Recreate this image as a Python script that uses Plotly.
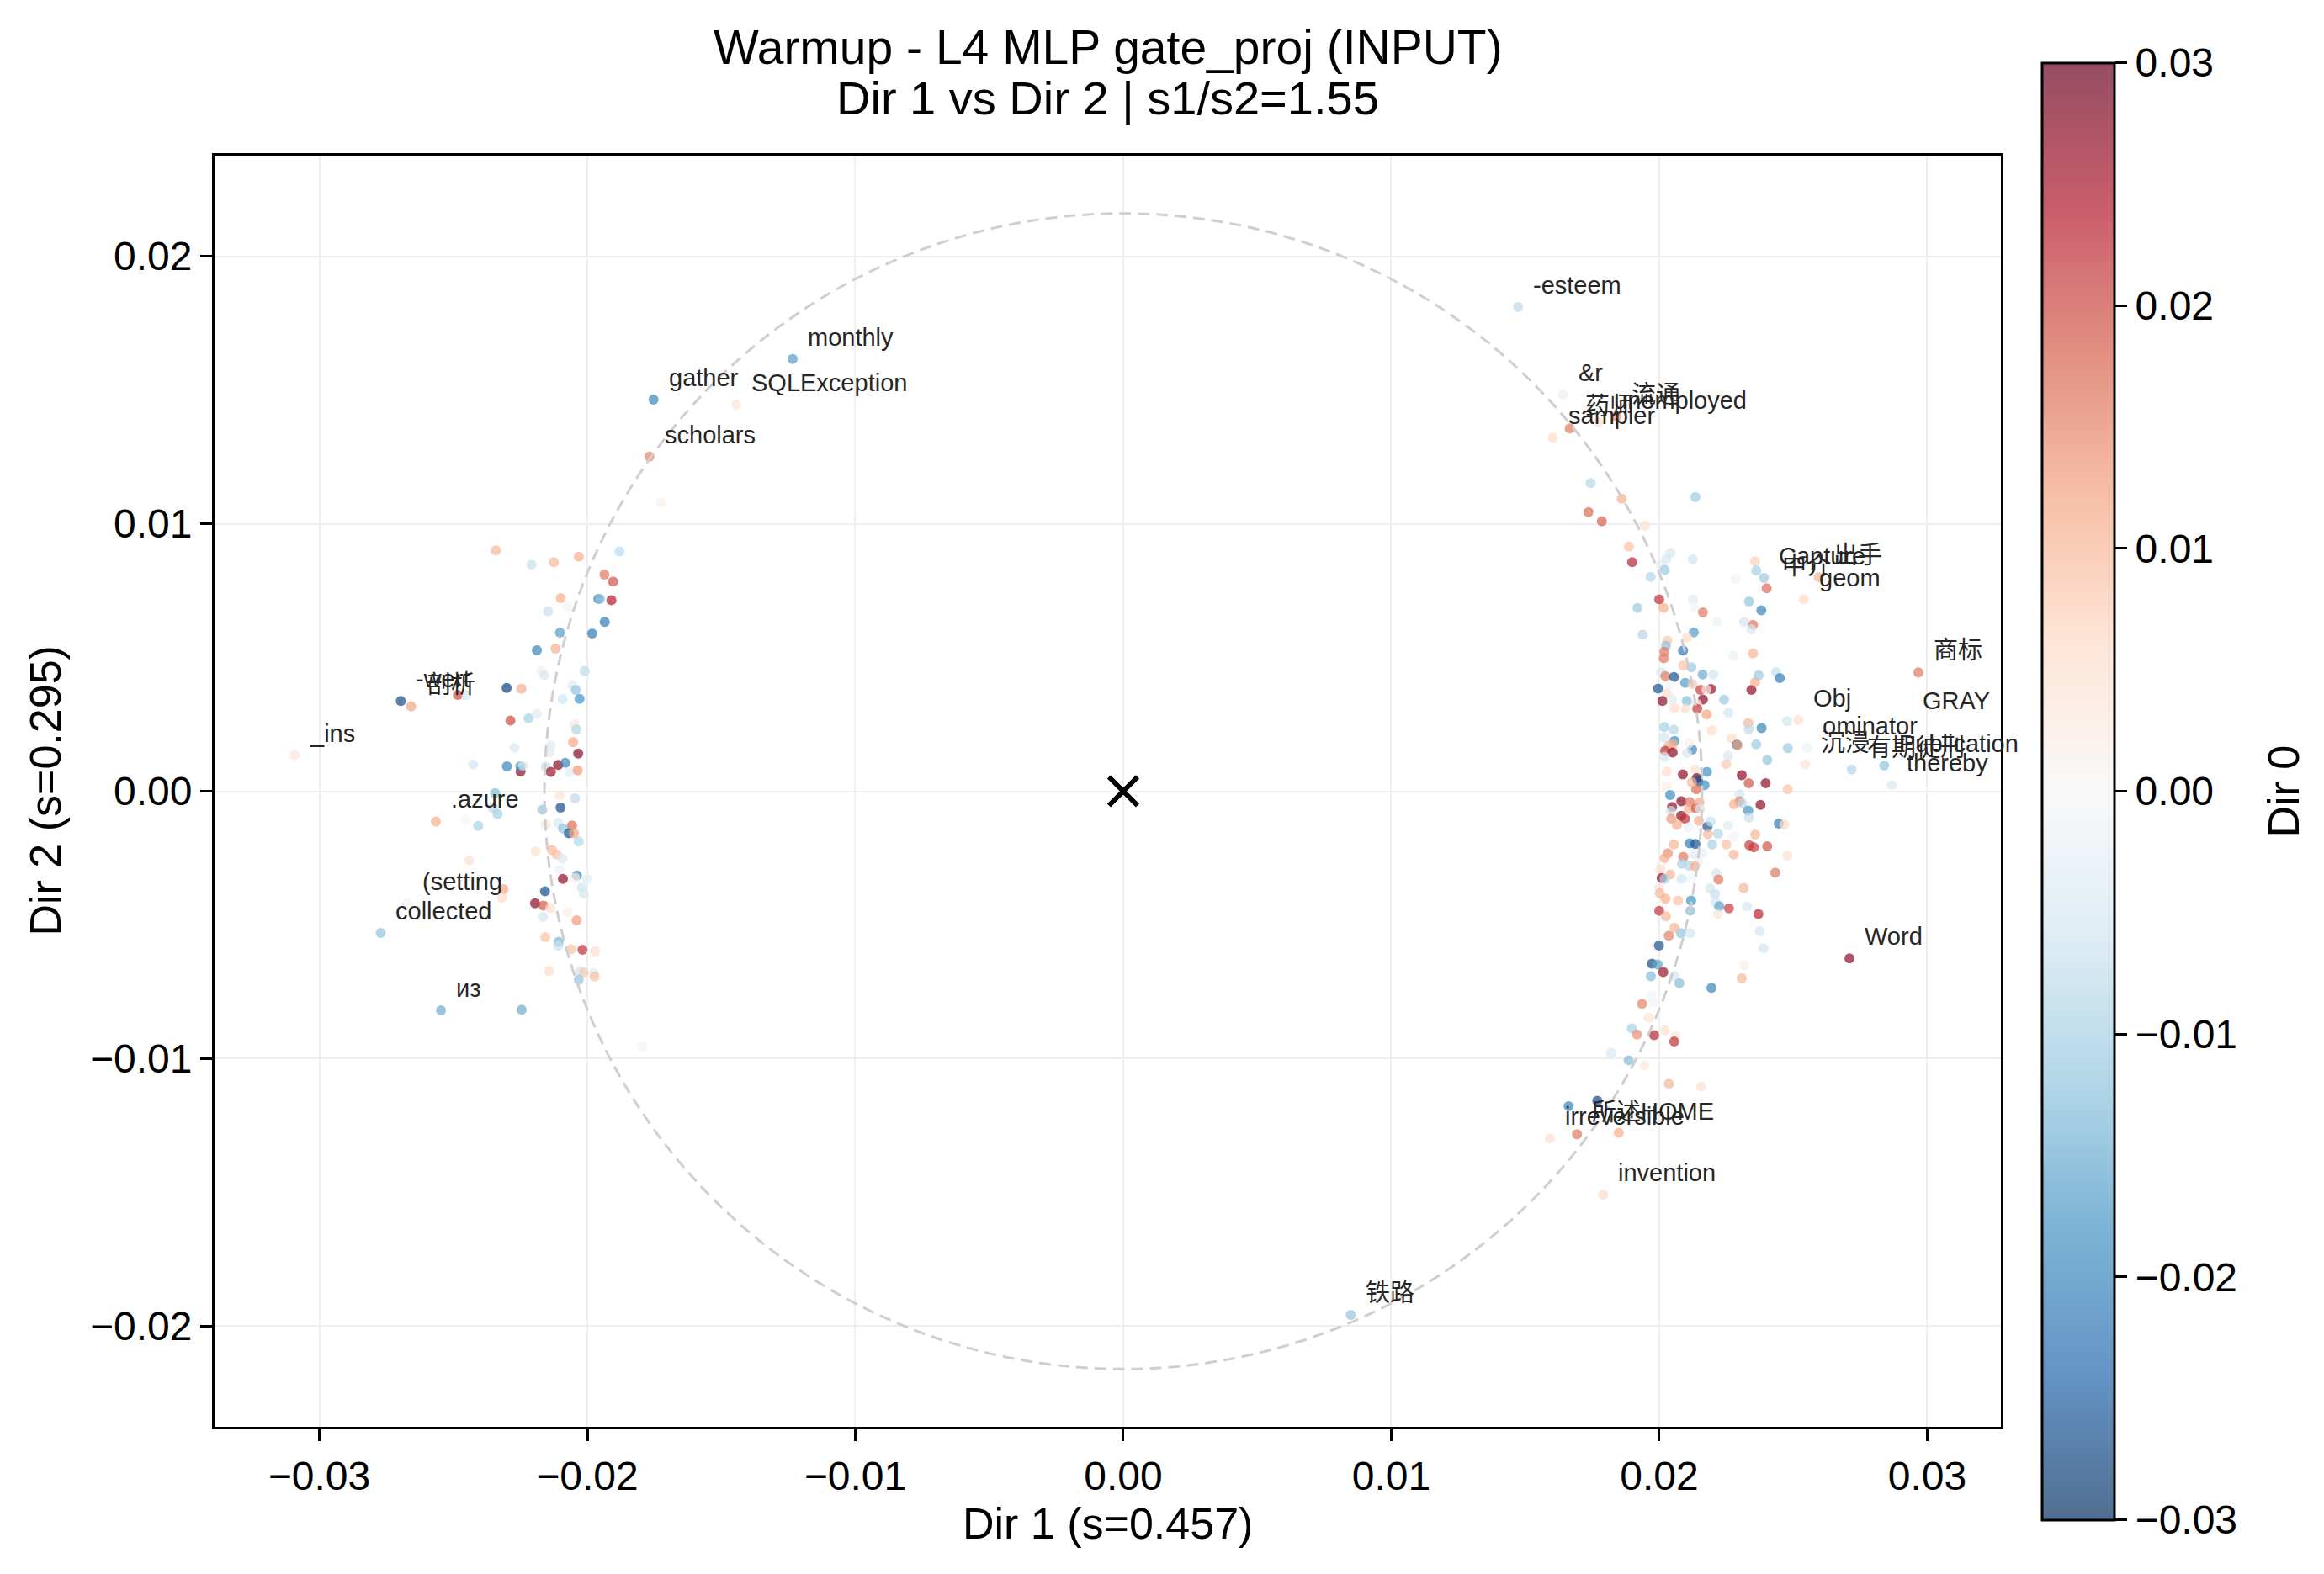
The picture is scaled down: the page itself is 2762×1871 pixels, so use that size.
import plotly.graph_objects as go

# ---------------- data ----------------
# unlabeled points, left cluster
left_dir1 = [-0.02341, -0.02208, -0.02125, -0.02032, -0.01880, -0.01936, -0.01904, -0.01959, -0.01952, -0.01910,
             -0.02099, -0.02074, -0.02147, -0.02102, -0.01982, -0.01935, -0.02188, -0.02119, -0.02010, -0.02172,
             -0.02161, -0.02301, -0.02246, -0.02055, -0.02043, -0.02029, -0.02092, -0.02483, -0.02452, -0.02287,
             -0.02219, -0.02188, -0.02048, -0.02041, -0.02053, -0.02034, -0.02272, -0.02138, -0.02140, -0.02426,
             -0.02300, -0.02249, -0.02250, -0.02240, -0.02155, -0.02109, -0.02136, -0.02082, -0.02067, -0.02036,
             -0.02344, -0.02102, -0.02046, -0.02352, -0.02335, -0.02100, -0.02168, -0.02452, -0.02407, -0.02155,
             -0.02109, -0.02091, -0.02057, -0.02069, -0.02050, -0.02032, -0.02440, -0.02193, -0.02132, -0.02114,
             -0.02093, -0.02104, -0.02091, -0.02039, -0.02046, -0.02002, -0.02021, -0.02013, -0.02313, -0.02318,
             -0.02158, -0.02195, -0.02164, -0.02138, -0.02073, -0.02040, -0.02166, -0.02157, -0.02107, -0.02109,
             -0.02061, -0.02018, -0.01971, -0.02143, -0.02027, -0.02014, -0.01976, -0.01973, -0.02032, -0.02245,
             -0.01795, -0.01725]
left_dir2 = [0.00900, 0.00847, 0.00856, 0.00877, 0.00896, 0.00810, 0.00784, 0.00719, 0.00719, 0.00714,
             0.00722, 0.00690, 0.00672, 0.00593, 0.00590, 0.00633, 0.00527, 0.00533, 0.00450, 0.00450,
             0.00435, 0.00386, 0.00383, 0.00397, 0.00379, 0.00345, 0.00344, 0.00360, 0.00360, 0.00264,
             0.00273, 0.00289, 0.00250, 0.00231, 0.00183, 0.00141, 0.00162, 0.00171, 0.00145, 0.00100,
             0.00093, 0.00074, 0.00093, 0.00096, 0.00091, 0.00098, 0.00072, 0.00106, 0.00071, 0.00078,
             -0.00007, -0.00015, -0.00027, -0.00063, -0.00085, -0.00061, -0.00069, -0.00105, -0.00130, -0.00125,
             -0.00118, -0.00139, -0.00128, -0.00157, -0.00157, -0.00188, -0.00259, -0.00226, -0.00220, -0.00237,
             -0.00252, -0.00293, -0.00328, -0.00315, -0.00324, -0.00328, -0.00360, -0.00383, -0.00366, -0.00398,
             -0.00374, -0.00419, -0.00428, -0.00437, -0.00452, -0.00483, -0.00470, -0.00546, -0.00563, -0.00578,
             -0.00591, -0.00593, -0.00598, -0.00672, -0.00673, -0.00678, -0.00680, -0.00693, -0.00705, -0.00817,
             -0.00956, 0.01079]
left_dir0 = [0.010, -0.007, 0.010, 0.011, -0.008, 0.016, 0.019, -0.020, -0.012, 0.024,
             0.011, 0.001, -0.007, -0.017, -0.021, -0.021, -0.020, 0.011, -0.008, 0.002,
             -0.005, -0.028, 0.011, -0.004, -0.012, -0.018, -0.006, 0.020, -0.005, 0.020,
             -0.010, -0.004, 0.003, -0.009, 0.012, 0.028, -0.005, -0.004, -0.003, -0.006,
             -0.020, 0.027, -0.018, -0.005, -0.007, 0.027, 0.026, -0.020, -0.003, 0.013,
             -0.013, 0.004, -0.008, -0.008, -0.010, -0.027, -0.012, 0.000, -0.010, 0.004,
             -0.005, -0.012, 0.017, -0.026, 0.012, -0.009, 0.005, 0.005, 0.010, 0.009,
             -0.005, -0.002, 0.027, -0.020, 0.002, -0.003, -0.006, -0.005, 0.012, 0.006,
             -0.027, 0.027, 0.019, 0.005, 0.002, 0.013, -0.006, 0.009, -0.014, -0.007,
             0.009, 0.022, 0.005, 0.006, -0.006, 0.008, -0.004, 0.009, -0.012, -0.015,
             -0.001, 0.002]

# unlabeled points, right cluster
right_dir1 = [0.01744, 0.02135, 0.01860, 0.01736, 0.01786, 0.01946, 0.01887, 0.01899, 0.02042, 0.02027,
              0.02125, 0.02006, 0.02021, 0.01968, 0.02357, 0.02362, 0.02286, 0.02335, 0.02381, 0.02000,
              0.02016, 0.01919, 0.02126, 0.02130, 0.02163, 0.02215, 0.02317, 0.02350, 0.02344, 0.01938,
              0.02129, 0.02104, 0.02030, 0.02025, 0.02019, 0.02017, 0.02089, 0.02090, 0.02120, 0.02277,
              0.02350, 0.02007, 0.02023, 0.02055, 0.02097, 0.01996, 0.02028, 0.02012, 0.02047, 0.02057,
              0.02124, 0.02154, 0.02193, 0.02176, 0.02162, 0.02202, 0.02103, 0.02163, 0.02140, 0.02142,
              0.02177, 0.02242, 0.02258, 0.02344, 0.02358, 0.02371, 0.02436, 0.02450, 0.02041, 0.02098,
              0.02019, 0.02054, 0.02018, 0.02057, 0.02036, 0.02051, 0.02022, 0.02050, 0.02019, 0.02123,
              0.02104, 0.02111, 0.02197, 0.02332, 0.02334, 0.02382, 0.02270, 0.02290, 0.02292, 0.02362,
              0.02403, 0.02257, 0.02250, 0.02477, 0.02480, 0.02028, 0.02088, 0.02135, 0.02140, 0.02178,
              0.02145, 0.02169, 0.02138, 0.02122, 0.02028, 0.02308, 0.02334, 0.02397, 0.02480, 0.02041,
              0.02077, 0.02048, 0.02044, 0.02045, 0.02082, 0.02096, 0.02066, 0.02109, 0.02083, 0.02114,
              0.02110, 0.02137, 0.02150, 0.02153, 0.02148, 0.02180, 0.02182, 0.02192, 0.02219, 0.02300,
              0.02300, 0.02279, 0.02310, 0.02378, 0.02332, 0.02335, 0.02257, 0.02280, 0.02358, 0.02446,
              0.02467, 0.02055, 0.02114, 0.02135, 0.02198, 0.02250, 0.02336, 0.02353, 0.02403, 0.02478,
              0.02032, 0.02020, 0.02090, 0.02130, 0.02161, 0.02145, 0.02085, 0.02111, 0.02133, 0.02278,
              0.02433, 0.02004, 0.02041, 0.02009, 0.02020, 0.02083, 0.02119, 0.02213, 0.02221, 0.02315,
              0.01999, 0.02002, 0.02023, 0.02070, 0.02119, 0.02116, 0.02189, 0.02208, 0.02210, 0.02224,
              0.02219, 0.02260, 0.02328, 0.02370, 0.02000, 0.02025, 0.02057, 0.02036, 0.02081, 0.02115,
              0.02375, 0.02389, 0.01985, 0.01999, 0.01973, 0.01994, 0.02015, 0.01969, 0.02057, 0.02075,
              0.02195, 0.02318, 0.02308, 0.01971, 0.01978, 0.01936, 0.01960, 0.01898, 0.01917, 0.01981,
              0.02022, 0.02061, 0.02056, 0.01821, 0.01886, 0.01945, 0.02036, 0.02156, 0.01662, 0.01769]
right_dir2 = [0.01152, 0.01100, 0.01094, 0.01043, 0.01009, 0.00992, 0.00914, 0.00856, 0.00891, 0.00869,
              0.00867, 0.00846, 0.00827, 0.00801, 0.00859, 0.00825, 0.00793, 0.00709, 0.00676, 0.00717,
              0.00685, 0.00685, 0.00717, 0.00689, 0.00668, 0.00634, 0.00633, 0.00622, 0.00605, 0.00585,
              0.00594, 0.00575, 0.00563, 0.00544, 0.00521, 0.00497, 0.00526, 0.00470, 0.00463, 0.00507,
              0.00515, 0.00444, 0.00430, 0.00427, 0.00405, 0.00384, 0.00367, 0.00337, 0.00343, 0.00311,
              0.00400, 0.00379, 0.00382, 0.00379, 0.00436, 0.00436, 0.00337, 0.00343, 0.00327, 0.00308,
              0.00287, 0.00342, 0.00294, 0.00379, 0.00407, 0.00433, 0.00445, 0.00423, 0.00397, 0.00308,
              0.00240, 0.00230, 0.00201, 0.00188, 0.00170, 0.00175, 0.00151, 0.00145, 0.00128, 0.00156,
              0.00143, 0.00180, 0.00227, 0.00255, 0.00232, 0.00236, 0.00198, 0.00174, 0.00172, 0.00175,
              0.00117, 0.00133, 0.00101, 0.00262, 0.00161, 0.00072, 0.00063, 0.00081, 0.00049, 0.00072,
              0.00038, 0.00023, 0.00007, 0.00033, 0.00018, 0.00060, 0.00030, 0.00030, 0.00007, -0.00014,
              -0.00035, -0.00059, -0.00074, -0.00103, -0.00092, -0.00103, -0.00126, -0.00135, -0.00038, -0.00040,
              -0.00066, -0.00064, -0.00042, -0.00066, -0.00111, -0.00132, -0.00161, -0.00113, -0.00159, -0.00012,
              -0.00038, -0.00049, -0.00045, -0.00051, -0.00072, -0.00098, -0.00129, -0.00169, -0.00162, -0.00121,
              -0.00124, -0.00199, -0.00195, -0.00197, -0.00199, -0.00199, -0.00202, -0.00210, -0.00206, -0.00241,
              -0.00232, -0.00250, -0.00245, -0.00234, -0.00231, -0.00265, -0.00271, -0.00278, -0.00281, -0.00237,
              -0.00304, -0.00292, -0.00311, -0.00325, -0.00328, -0.00328, -0.00326, -0.00307, -0.00330, -0.00362,
              -0.00362, -0.00381, -0.00402, -0.00409, -0.00409, -0.00447, -0.00363, -0.00384, -0.00415, -0.00430,
              -0.00459, -0.00438, -0.00431, -0.00459, -0.00447, -0.00468, -0.00510, -0.00540, -0.00531, -0.00531,
              -0.00524, -0.00587, -0.00577, -0.00577, -0.00645, -0.00648, -0.00676, -0.00692, -0.00690, -0.00718,
              -0.00735, -0.00651, -0.00700, -0.00763, -0.00789, -0.00795, -0.00847, -0.00887, -0.00910, -0.00912,
              -0.00894, -0.00915, -0.00936, -0.00978, -0.01006, -0.01025, -0.01094, -0.01104, -0.01178, -0.01157]
right_dir0 = [-0.009, -0.011, 0.011, 0.017, 0.018, 0.005, 0.009, 0.023, -0.005, -0.005,
              -0.006, -0.004, -0.011, -0.009, 0.007, -0.010, -0.001, -0.012, -0.020, 0.022,
              0.011, -0.011, -0.004, -0.001, 0.016, -0.002, -0.006, 0.016, -0.005, -0.009,
              -0.017, 0.006, 0.008, -0.012, 0.016, 0.016, -0.021, 0.009, -0.011, -0.002,
              0.010, -0.005, 0.016, -0.026, -0.017, -0.026, 0.005, 0.027, -0.004, 0.006,
              0.008, 0.021, 0.026, 0.003, -0.015, -0.006, -0.013, 0.027, 0.004, 0.021,
              0.012, -0.011, -0.006, 0.027, 0.011, -0.011, -0.007, -0.021, -0.001, 0.005,
              -0.010, -0.009, -0.006, -0.019, 0.010, 0.011, 0.022, 0.027, -0.005, -0.020,
              -0.005, 0.002, 0.006, 0.010, -0.008, -0.020, 0.006, -0.026, 0.012, -0.011,
              -0.012, -0.005, 0.008, -0.006, -0.011, 0.005, 0.027, 0.005, 0.029, -0.018,
              -0.026, -0.019, 0.017, 0.010, 0.002, 0.027, 0.019, 0.027, 0.009, -0.019,
              -0.004, 0.027, -0.006, 0.013, 0.027, 0.022, 0.011, -0.002, 0.027, 0.016,
              0.011, 0.019, 0.012, -0.005, 0.011, -0.026, 0.010, -0.007, -0.009, -0.006,
              0.016, 0.011, -0.008, 0.027, -0.018, -0.007, -0.004, -0.001, 0.010, -0.021,
              0.006, 0.010, -0.021, -0.026, -0.010, 0.009, 0.021, 0.021, 0.019, 0.005,
              0.014, 0.011, 0.016, -0.004, -0.002, -0.002, -0.010, -0.009, 0.011, 0.010,
              0.016, 0.006, 0.010, 0.026, -0.010, -0.006, -0.001, -0.006, 0.016, 0.010,
              0.004, 0.010, 0.011, 0.009, -0.018, -0.013, -0.006, -0.007, -0.006, -0.016,
              0.004, 0.021, -0.005, 0.023, 0.022, 0.010, 0.010, 0.015, -0.012, -0.006,
              -0.006, -0.006, 0.002, -0.026, -0.027, -0.016, 0.026, -0.013, -0.005, -0.013,
              -0.020, 0.002, 0.010, -0.001, -0.001, 0.015, 0.004, -0.010, 0.014, 0.023,
              0.005, 0.004, 0.022, -0.005, -0.013, 0.003, 0.010, 0.005, -0.020, -0.027]

# labeled tokens
label_tokens = ["-esteem", "monthly", "gather", "SQLException", "scholars", "&r", "药师", "流通",
                "unemployed", "sampler", "Capture", "中介", "出手", "geom", "商标", "Obj", "GRAY",
                "ominator", "沉浸", "有期徒刑", "Publication", "thereby", "Word", " HOME", "所述",
                "irreversible", "invention", "铁路", "_ins", "-wert", "剖析", ".azure", "(setting",
                "collected", "из"]
label_dir1 = [0.01473, -0.01234, -0.01753, -0.01444, -0.01768, 0.01641, 0.01666, 0.01840,
              0.01773, 0.01603, 0.02391, 0.02401, 0.02595, 0.02539, 0.02967, 0.02519, 0.02928,
              0.02552, 0.02545, 0.02718, 0.02840, 0.02868, 0.02710, 0.01849, 0.01693,
              0.01592, 0.01791, 0.00849, -0.03092, -0.02696, -0.02657, -0.02565, -0.02673,
              -0.02771, -0.02546]
label_dir2 = [0.01810, 0.01616, 0.01464, 0.01445, 0.01251, 0.01482, 0.01356, 0.01401,
              0.01380, 0.01322, 0.00797, 0.00759, 0.00800, 0.00717, 0.00444, 0.00266, 0.00255,
              0.00162, 0.00100, 0.00081, 0.00096, 0.00023, -0.00625, -0.01277, -0.01282,
              -0.01298, -0.01509, -0.01958, 0.00135, 0.00337, 0.00317, -0.00113, -0.00419,
              -0.00530, -0.00819]
label_dir0 = [-0.008, -0.017, -0.020, 0.004, 0.015, -0.002, 0.016, 0.014,
              0.005, 0.006, -0.011, 0.017, 0.010, 0.006, 0.016, 0.006, 0.000,
              -0.002, 0.004, -0.009, -0.012, -0.005, 0.027, 0.011, 0.016,
              0.005, 0.006, -0.012, 0.004, -0.027, 0.012, 0.011, -0.001,
              -0.012, -0.015]

circle_radius = 0.0216

x_ticks = [-0.03, -0.02, -0.01, 0.0, 0.01, 0.02, 0.03]
x_ticklabels = ["\u22120.03", "\u22120.02", "\u22120.01", "0.00", "0.01", "0.02", "0.03"]
y_ticks = [-0.02, -0.01, 0.0, 0.01, 0.02]
y_ticklabels = ["\u22120.02", "\u22120.01", "0.00", "0.01", "0.02"]
cb_ticks = [-0.03, -0.02, -0.01, 0.0, 0.01, 0.02, 0.03]
cb_ticklabels = ["\u22120.03", "\u22120.02", "\u22120.01", "0.00", "0.01", "0.02", "0.03"]

title_line1 = "Warmup - L4 MLP gate_proj (INPUT)"
title_line2 = "Dir 1 vs Dir 2 | s1/s2=1.55"
x_title = "Dir 1 (s=0.457)"
y_title = "Dir 2 (s=0.295)"
cb_title = "Dir 0"

# ---------------- figure ----------------
FONT = "Liberation Sans, Arial, Noto Sans CJK SC, sans-serif"
W, H = 2762, 1871
ML, MR, MT, MB = 255, 384, 185, 175
PW, PH = W - ML - MR, H - MT - MB

rdbu_r = [(5, 48, 97), (33, 102, 172), (67, 147, 195), (146, 197, 222), (209, 229, 240),
          (247, 247, 247), (253, 219, 199), (244, 165, 130), (214, 96, 77), (178, 24, 43),
          (103, 0, 31)]
colorscale = [[i / 10, "rgba(%d,%d,%d,0.7)" % c] for i, c in enumerate(rdbu_r)]

dir1 = left_dir1 + right_dir1 + label_dir1
dir2 = left_dir2 + right_dir2 + label_dir2
dir0 = left_dir0 + right_dir0 + label_dir0

fig = go.Figure()

fig.add_trace(go.Scatter(
    x=dir1, y=dir2, mode="markers", hoverinfo="skip", showlegend=False,
    marker=dict(
        size=12, color=dir0, colorscale=colorscale, cmin=-0.03, cmax=0.03,
        line=dict(width=0), showscale=True,
        colorbar=dict(
            x=(2427 - ML) / PW, xanchor="left", y=0.5, yanchor="middle",
            thickness=86, thicknessmode="pixels", len=1732, lenmode="pixels",
            outlinewidth=3, outlinecolor="black",
            ticks="outside", ticklen=14, tickwidth=3, tickcolor="black",
            tickvals=cb_ticks, ticktext=cb_ticklabels,
            tickfont=dict(size=48, color="black", family=FONT),
            xpad=0, ypad=0,
        ),
    ),
))

fig.add_trace(go.Scatter(
    x=[0], y=[0], mode="markers", hoverinfo="skip", showlegend=False,
    marker=dict(symbol="x-thin", size=34, color="black", line=dict(width=6, color="black")),
))

fig.add_shape(type="circle", xref="x", yref="y",
              x0=-circle_radius, y0=-circle_radius, x1=circle_radius, y1=circle_radius,
              line=dict(color="#cfcfcf", width=3, dash="14px,8px"), layer="above")

for t, x, y in zip(label_tokens, label_dir1, label_dir2):
    fig.add_annotation(x=x, y=y, xref="x", yref="y",
                       text=t.replace("&", "&amp;").replace("<", "&lt;"),
                       showarrow=False, xanchor="left", yanchor="bottom",
                       xshift=16, yshift=8,
                       font=dict(size=29, color="#262626", family=FONT))

def px_y(py):
    return (H - MB - py) / PH

def px_x(px):
    return (px - ML) / PW

fig.add_annotation(x=0.5, y=px_y(56), xref="paper", yref="paper", text=title_line1,
                   showarrow=False, xanchor="center", yanchor="middle",
                   font=dict(size=57, color="black", family=FONT))
fig.add_annotation(x=0.5, y=px_y(116), xref="paper", yref="paper", text=title_line2,
                   showarrow=False, xanchor="center", yanchor="middle",
                   font=dict(size=56, color="black", family=FONT))
fig.add_annotation(x=0.5, y=px_y(1811), xref="paper", yref="paper", text=x_title,
                   showarrow=False, xanchor="center", yanchor="middle",
                   font=dict(size=52, color="black", family=FONT))
fig.add_annotation(x=px_x(53), y=0.5, xref="paper", yref="paper", text=y_title,
                   showarrow=False, xanchor="center", yanchor="middle", textangle=-90,
                   font=dict(size=52, color="black", family=FONT))
fig.add_annotation(x=px_x(2713), y=0.5, xref="paper", yref="paper", text=cb_title,
                   showarrow=False, xanchor="center", yanchor="middle", textangle=-90,
                   font=dict(size=52, color="black", family=FONT))

axis_common = dict(
    showline=True, mirror=True, linecolor="black", linewidth=3,
    ticks="outside", ticklen=14, tickwidth=3, tickcolor="black",
    tickfont=dict(size=48, color="black", family=FONT),
    showgrid=True, gridcolor="#efefef", gridwidth=2, zeroline=False,
)
fig.update_xaxes(range=[-0.03391, 0.03275], tickvals=x_ticks, ticktext=x_ticklabels, **axis_common)
fig.update_yaxes(range=[-0.02376, 0.02376], tickvals=y_ticks, ticktext=y_ticklabels, **axis_common)

fig.update_layout(
    width=W, height=H, autosize=False,
    margin=dict(l=ML, r=MR, t=MT, b=MB, pad=0),
    plot_bgcolor="white", paper_bgcolor="white",
    font=dict(family=FONT, color="black"),
    showlegend=False,
)

fig.write_html("out.html")
